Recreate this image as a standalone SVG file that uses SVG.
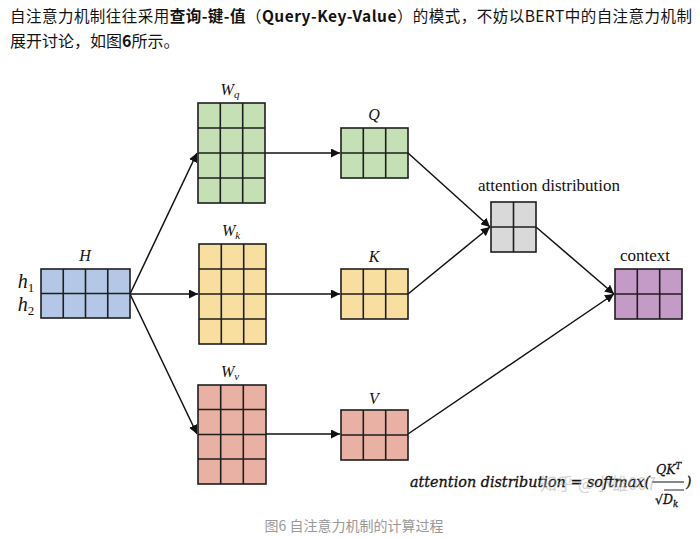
<svg xmlns="http://www.w3.org/2000/svg" width="700" height="538" viewBox="0 0 700 538">
<defs>
<marker id="ah" viewBox="0 0 10 10" refX="10" refY="5" markerWidth="9" markerHeight="9" markerUnits="userSpaceOnUse" orient="auto">
<path d="M0,0 L10,5 L0,10 z" fill="#111"/>
</marker>
</defs>
<style>
.hdr{font-family:"Noto Sans CJK SC","Noto Sans",sans-serif;font-size:15.5px;fill:#121212}
.b{font-weight:bold}
.cap{font-family:"Noto Sans CJK SC",sans-serif;font-size:14px;fill:#999}
.g{stroke:#1e1e1e;stroke-width:1.6}
.lab{font-family:"Liberation Serif",serif;font-style:italic;font-size:16px;fill:#111;text-anchor:middle}
.sub{font-size:11px}
.tl{font-family:"Liberation Serif",serif;font-size:17px;fill:#111;text-anchor:middle}
.fm{font-family:"DejaVu Serif",serif;font-style:italic;font-size:14px;fill:#111;stroke:#111;stroke-width:0.3}
.con{stroke:#111;stroke-width:1.5;fill:none;marker-end:url(#ah)}
.wm{font-family:"Noto Sans CJK SC",sans-serif;font-size:17px;fill:#aaa;opacity:0.5}
</style>
<rect width="700" height="538" fill="#fff"/>
<text class="hdr" x="10" y="22" textLength="682" lengthAdjust="spacing">自注意力机制往往采用<tspan class="b">查询-键-值</tspan>（<tspan class="b">Query-Key-Value</tspan>）的模式，不妨以BERT中的自注意力机制</text>
<text class="hdr" x="10" y="47" style="font-size:16px">展开讨论，如图<tspan class="b">6</tspan>所示。</text>

<g id="connectors">
<line class="con" x1="130" y1="294" x2="197" y2="153"/>
<line class="con" x1="130" y1="294" x2="198" y2="294"/>
<line class="con" x1="130" y1="294" x2="197" y2="434"/>
<line class="con" x1="265" y1="153" x2="340" y2="153"/>
<line class="con" x1="266" y1="294" x2="340" y2="294"/>
<line class="con" x1="266" y1="434" x2="340" y2="434"/>
<line class="con" x1="408" y1="153" x2="490" y2="227"/>
<line class="con" x1="408" y1="294" x2="490" y2="227"/>
<line class="con" x1="536" y1="227" x2="614" y2="294"/>
<line class="con" x1="408" y1="434" x2="614" y2="294"/>
</g>

<g id="H">
<rect x="41" y="269" width="89" height="49" fill="#b4c7e7" class="g"/>
<path class="g" d="M63.25,269V318M85.5,269V318M107.75,269V318M41,293.5H130"/>
<text class="lab" x="85" y="261">H</text>
<text class="lab" x="26" y="288" style="font-size:20px">h<tspan style="font-size:13px;font-style:normal" dy="4">1</tspan></text>
<text class="lab" x="26" y="311" style="font-size:20px">h<tspan style="font-size:13px;font-style:normal" dy="4">2</tspan></text>
</g>

<g id="Wq">
<rect x="198" y="103" width="67" height="100" fill="#c5e0b4" class="g"/>
<path class="g" d="M220.3,103V203M242.7,103V203M198,128H265M198,153H265M198,178H265"/>
<text class="lab" x="230" y="95">W<tspan class="sub" dy="3">q</tspan></text>
</g>

<g id="Wk">
<rect x="199" y="244" width="67" height="100" fill="#f9df9f" class="g"/>
<path class="g" d="M221.3,244V344M243.7,244V344M199,269H266M199,294H266M199,319H266"/>
<text class="lab" x="231" y="236">W<tspan class="sub" dy="3">k</tspan></text>
</g>

<g id="Wv">
<rect x="198" y="385" width="68" height="99" fill="#e8b1a4" class="g"/>
<path class="g" d="M220.7,385V484M243.3,385V484M198,409.5H266M198,434.5H266M198,459H266"/>
<text class="lab" x="230" y="377">W<tspan class="sub" dy="3">v</tspan></text>
</g>

<g id="Q">
<rect x="341" y="128" width="67" height="50" fill="#c5e0b4" class="g"/>
<path class="g" d="M363.3,128V178M385.7,128V178M341,153H408"/>
<text class="lab" x="374" y="120">Q</text>
</g>

<g id="K">
<rect x="341" y="269" width="67" height="50" fill="#f9df9f" class="g"/>
<path class="g" d="M363.3,269V319M385.7,269V319M341,294H408"/>
<text class="lab" x="374" y="262">K</text>
</g>

<g id="V">
<rect x="341" y="410" width="67" height="50" fill="#e8b1a4" class="g"/>
<path class="g" d="M363.3,410V460M385.7,410V460M341,435H408"/>
<text class="lab" x="374" y="404">V</text>
</g>

<g id="attention">
<rect x="491" y="202" width="45" height="50" fill="#d9d9d9" class="g"/>
<path class="g" d="M513.5,202V252M491,227H536"/>
<text class="tl" x="549" y="191">attention distribution</text>
</g>

<g id="context">
<rect x="615" y="269" width="67" height="50" fill="#c49ac7" class="g"/>
<path class="g" d="M637.3,269V319M659.7,269V319M615,294H682"/>
<text class="tl" x="645" y="261">context</text>
</g>

<g id="formula">
<text class="fm" x="410" y="487" textLength="240" lengthAdjust="spacingAndGlyphs">attention distribution = softmax(</text>
<text class="fm" x="656" y="474" style="font-size:12.5px">QK<tspan dy="-5" style="font-size:8.5px">T</tspan></text>
<line x1="652" y1="482" x2="684" y2="482" stroke="#111" stroke-width="1"/>
<line x1="664" y1="490" x2="684" y2="490" stroke="#111" stroke-width="0.9"/>
<text class="fm" x="655" y="504" style="font-size:12.5px"><tspan style="font-style:normal">√</tspan>D<tspan dy="3" style="font-size:8.5px">k</tspan></text>
<text class="fm" x="686" y="487">)</text>
</g>
<text class="wm" x="540" y="490">知乎 @小雄007</text>

<text class="cap" x="354" y="531" text-anchor="middle">图6 自注意力机制的计算过程</text>
</svg>
